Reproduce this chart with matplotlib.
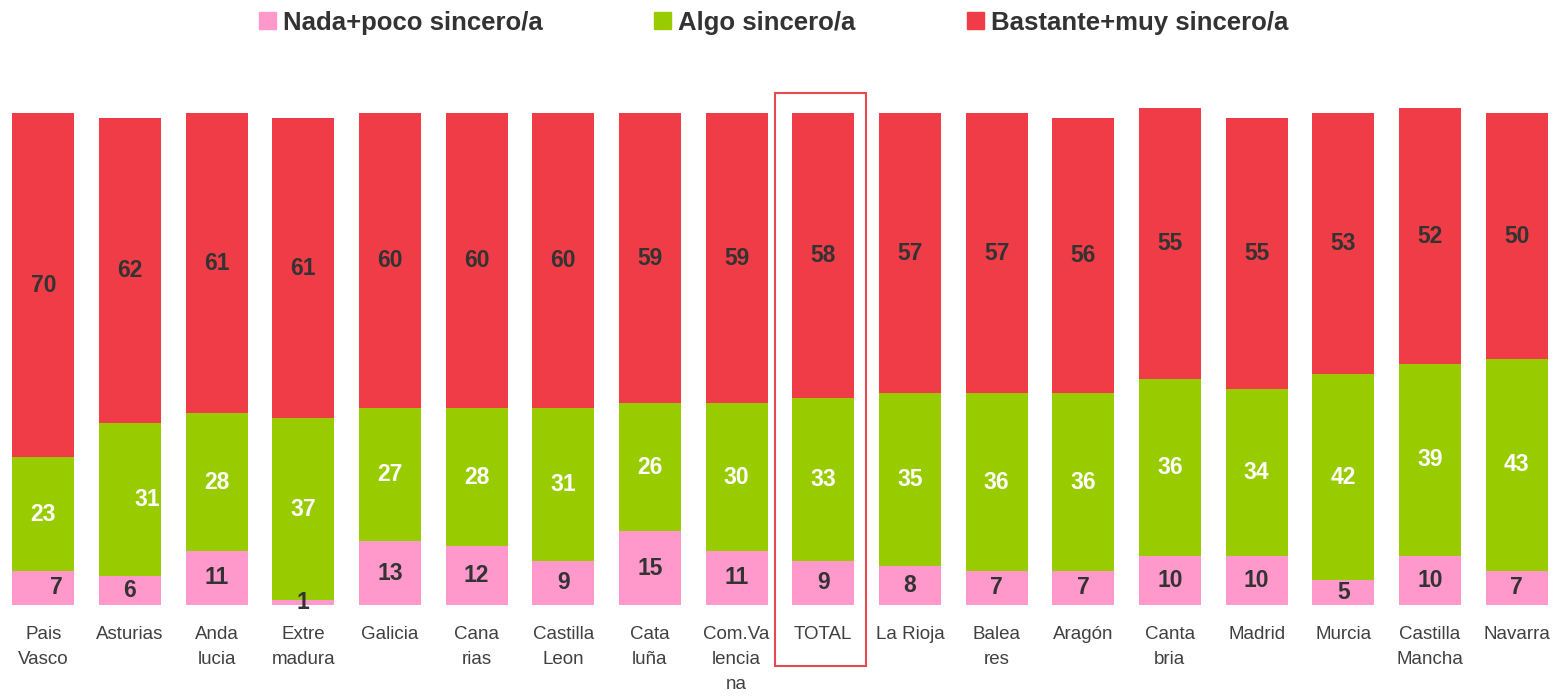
import matplotlib.pyplot as plt
from matplotlib.patches import Rectangle, Patch

plt.rcParams['font.family'] = ['Liberation Sans', 'DejaVu Sans']

regions = ["Pais\nVasco", "Asturias", "Anda\nlucia", "Extre\nmadura", "Galicia",
           "Cana\nrias", "Castilla\nLeon", "Cata\nluña", "Com.Va\nlencia\nna", "TOTAL",
           "La Rioja", "Balea\nres", "Aragón", "Canta\nbria", "Madrid", "Murcia",
           "Castilla\nMancha", "Navarra"]
nada_poco = [7, 6, 11, 1, 13, 12, 9, 15, 11, 9, 8, 7, 7, 10, 10, 5, 10, 7]
algo = [23, 31, 28, 37, 27, 28, 31, 26, 30, 33, 35, 36, 36, 36, 34, 42, 39, 43]
bastante_muy = [70, 62, 61, 61, 60, 60, 60, 59, 59, 58, 57, 57, 56, 55, 55, 53, 52, 50]

pink = '#FF99CC'
green = '#99CC00'
red = '#F03C46'
dark = '#333333'

fig = plt.figure(figsize=(15.63, 6.96), dpi=100)
ax = fig.add_axes([0.0, 0.1307, 0.998, 0.721])

x = list(range(len(regions)))
w = 0.715
ax.bar(x, nada_poco, w, color=pink)
base2 = nada_poco
ax.bar(x, algo, w, bottom=base2, color=green)
base3 = [a + b for a, b in zip(nada_poco, algo)]
ax.bar(x, bastante_muy, w, bottom=base3, color=red)

# a couple of labels sit off-centre in the original
shift_pink = {0: 0.15}
shift_green = {1: 0.2}

for i in x:
    ax.text(i + shift_pink.get(i, 0), nada_poco[i] / 2, str(nada_poco[i]),
            ha='center', va='center', fontsize=16.5, fontweight='bold', color=dark)
    ax.text(i + shift_green.get(i, 0), base2[i] + algo[i] / 2, str(algo[i]),
            ha='center', va='center', fontsize=16.5, fontweight='bold', color='white')
    ax.text(i, base3[i] + bastante_muy[i] / 2, str(bastante_muy[i]),
            ha='center', va='center', fontsize=16.5, fontweight='bold', color=dark)

# highlight box around TOTAL
ti = regions.index("TOTAL")
ax.add_patch(Rectangle((ti - 0.554, -12.4), 1.05, 116.5, fill=False,
                       edgecolor='#E8474C', linewidth=1.5, clip_on=False))

ax.set_xlim(-0.5, len(regions) - 0.5)
ax.set_ylim(0, 102)
ax.set_xticks(x)
ax.set_xticklabels(regions, fontsize=13.5, color='#404040', linespacing=1.62)
ax.tick_params(axis='x', length=0, pad=15)
ax.set_yticks([])
for s in ax.spines.values():
    s.set_visible(False)

handles = [Patch(color=pink), Patch(color=green), Patch(color=red)]
labels = ['Nada+poco sincero/a', 'Algo sincero/a', 'Bastante+muy sincero/a']
leg = fig.legend(handles, labels, loc='upper center', bbox_to_anchor=(0.495, 1.018),
                 ncol=3, frameon=False, handlelength=0.66, handleheight=0.66,
                 handletextpad=0.27, columnspacing=4.35,
                 prop={'size': 18.5, 'weight': 'bold'})
for t in leg.get_texts():
    t.set_color(dark)

fig.savefig('out.png', dpi=100)
